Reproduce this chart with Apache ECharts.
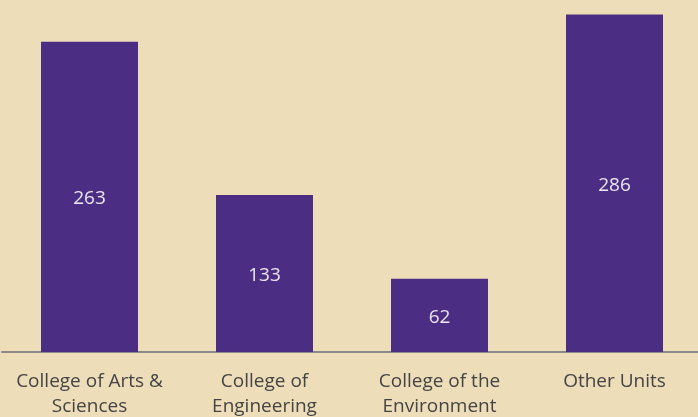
<!DOCTYPE html>
<html>
<head>
<meta charset="utf-8">
<script src="https://cdn.jsdelivr.net/npm/echarts@6/dist/echarts.min.js"></script>
<style>
  html, body { margin: 0; padding: 0; background: #eddeb9; }
  #chart { width: 698px; height: 417px; }
</style>
</head>
<body>
<div id="chart"></div>
<script>
// data
var categories = ['College of Arts &\nSciences', 'College of\nEngineering', 'College of the\nEnvironment', 'Other Units'];
var counts = [263, 133, 62, 286];

var chart = echarts.init(document.getElementById('chart'));

chart.setOption({
    backgroundColor: '#eddeb9',
    animation: false,
    grid: { left: 2, width: 700, top: -2, height: 354, outerBoundsMode: 'none' },
    xAxis: {
        type: 'category',
        data: categories,
        axisLine: { lineStyle: { color: '#8a8a8a', width: 2 } },
        axisTick: { show: false },
        axisLabel: {
            color: '#444',
            fontFamily: 'Open Sans',
            fontSize: 19,
            lineHeight: 25,
            margin: 17,
            interval: 0
        }
    },
    yAxis: {
        type: 'value',
        min: 0,
        max: 300,
        show: false,
        splitLine: { show: false }
    },
    series: [{
        type: 'bar',
        data: counts,
        barWidth: 97,
        itemStyle: { color: '#4b2e83' },
        label: {
            show: true,
            position: 'inside',
            offset: [0, 2],
            color: '#ece6f2',
            fontFamily: 'Open Sans',
            fontSize: 19
        }
    }]
});
</script>
</body>
</html>
